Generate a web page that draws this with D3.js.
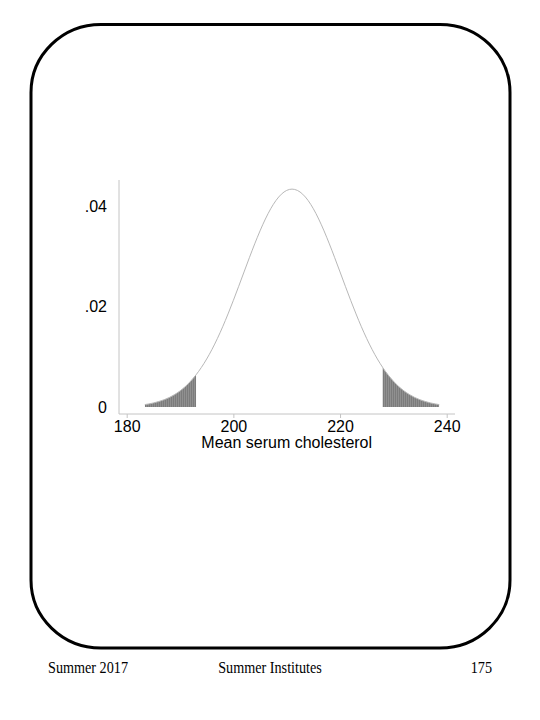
<!DOCTYPE html>
<html>
<head>
<meta charset="utf-8">
<script src="https://cdn.jsdelivr.net/npm/d3@7"></script>
<style>
  html, body { margin: 0; padding: 0; background: #fff; }
  svg { display: block; }
</style>
</head>
<body>
<svg id="chart" width="540" height="720"></svg>
<script>
// ---- data ----
const cholesterol = [183.4, 185, 187, 189, 191, 193, 195, 197, 199, 201, 203, 205, 207, 209, 211,
                     213, 215, 217, 219, 221, 223, 225, 227, 229, 231, 233, 235, 237, 238.6];
const density = [0.00048, 0.00080, 0.00144, 0.00248, 0.00408, 0.00640, 0.00956, 0.01362, 0.01852,
                 0.02402, 0.02971, 0.03505, 0.03945, 0.04235, 0.04336, 0.04235, 0.03945, 0.03505,
                 0.02971, 0.02402, 0.01852, 0.01362, 0.00956, 0.00640, 0.00408, 0.00248, 0.00144,
                 0.00080, 0.00048];
const lowerTail = [183.4, 193];
const upperTail = [228, 238.6];
const xTicks = [180, 200, 220, 240];
const yTicks = [0, 0.02, 0.04];
const yTickLabels = ["0", ".02", ".04"];
const xTitle = "Mean serum cholesterol";
const footerLeft = "Summer 2017";
const footerMid = "Summer Institutes";
const footerRight = "175";

const svg = d3.select("#chart");
const pts = cholesterol.map((c, i) => ({ c, d: density[i] }));

// frame
svg.append("rect")
  .attr("x", 31).attr("y", 24.5).attr("width", 479).attr("height", 623.5)
  .attr("rx", 70).attr("ry", 68)
  .attr("fill", "none").attr("stroke", "#000").attr("stroke-width", 3);

const x = d3.scaleLinear().domain([180, 240]).range([126.7, 446.7]);
const y = d3.scaleLinear().domain([0, 0.04]).range([407, 206]);

const axisColor = "#c4c4c4";

// stripe pattern for shaded tails
const defs = svg.append("defs");
const pat = defs.append("pattern")
  .attr("id", "stripes").attr("patternUnits", "userSpaceOnUse")
  .attr("width", 2).attr("height", 10);
pat.append("rect").attr("width", 2).attr("height", 10).attr("fill", "#7c7c7c");
pat.append("rect").attr("width", 0.7).attr("height", 10).attr("fill", "#999999");

[lowerTail, upperTail].forEach((t, i) => {
  defs.append("clipPath").attr("id", "tail" + i)
    .append("rect")
    .attr("x", x(t[0])).attr("y", 0)
    .attr("width", x(t[1]) - x(t[0])).attr("height", 720);
});

const area = d3.area().x(p => x(p.c)).y0(y(0)).y1(p => y(p.d)).curve(d3.curveNatural);
[0, 1].forEach(i => {
  svg.append("path").datum(pts)
    .attr("d", area)
    .attr("fill", "url(#stripes)")
    .attr("clip-path", `url(#tail${i})`);
});

// curve
const line = d3.line().x(p => x(p.c)).y(p => y(p.d)).curve(d3.curveNatural);
svg.append("path").datum(pts)
  .attr("d", line)
  .attr("fill", "none").attr("stroke", "#b8b8b8").attr("stroke-width", 1);

// axes
const axisY = 414, axisX = 119;
svg.append("line")
  .attr("x1", axisX).attr("x2", axisX).attr("y1", 180).attr("y2", axisY)
  .attr("stroke", axisColor).attr("stroke-width", 1);
svg.append("line")
  .attr("x1", axisX).attr("x2", 455).attr("y1", axisY).attr("y2", axisY)
  .attr("stroke", axisColor).attr("stroke-width", 1);

const tickFont = "16px";
const xa = svg.append("g").attr("transform", `translate(0,${axisY})`)
  .call(d3.axisBottom(x).tickValues(xTicks).tickSize(4).tickPadding(3).tickFormat(d3.format("d")));
xa.select(".domain").remove();
xa.selectAll(".tick line").attr("stroke", axisColor);
xa.selectAll(".tick text")
  .attr("fill", "#000")
  .style("font-family", "Liberation Sans, Arial, sans-serif")
  .style("font-size", tickFont);

const ya = svg.append("g").attr("transform", `translate(${axisX},0)`)
  .call(d3.axisLeft(y).tickValues(yTicks).tickSize(0).tickPadding(12)
    .tickFormat((d, i) => yTickLabels[i]));
ya.select(".domain").remove();
ya.selectAll(".tick text")
  .attr("fill", "#000")
  .style("font-family", "Liberation Sans, Arial, sans-serif")
  .style("font-size", tickFont);

svg.append("text")
  .attr("x", (x(180) + x(240)) / 2).attr("y", 448)
  .attr("text-anchor", "middle")
  .style("font-family", "Liberation Sans, Arial, sans-serif")
  .style("font-size", "16px")
  .text(xTitle);

// footer
const ff = "Liberation Serif, Times New Roman, serif";
const footer = svg.append("g").attr("transform", "translate(0,673) scale(1,1.12)");
footer.append("text").attr("x", 48).attr("y", 0)
  .style("font-family", ff).style("font-size", "14.2px").text(footerLeft);
footer.append("text").attr("x", 270).attr("y", 0).attr("text-anchor", "middle")
  .style("font-family", ff).style("font-size", "14.2px").text(footerMid);
footer.append("text").attr("x", 492).attr("y", 0).attr("text-anchor", "end")
  .style("font-family", ff).style("font-size", "14.2px").text(footerRight);
</script>
</body>
</html>
